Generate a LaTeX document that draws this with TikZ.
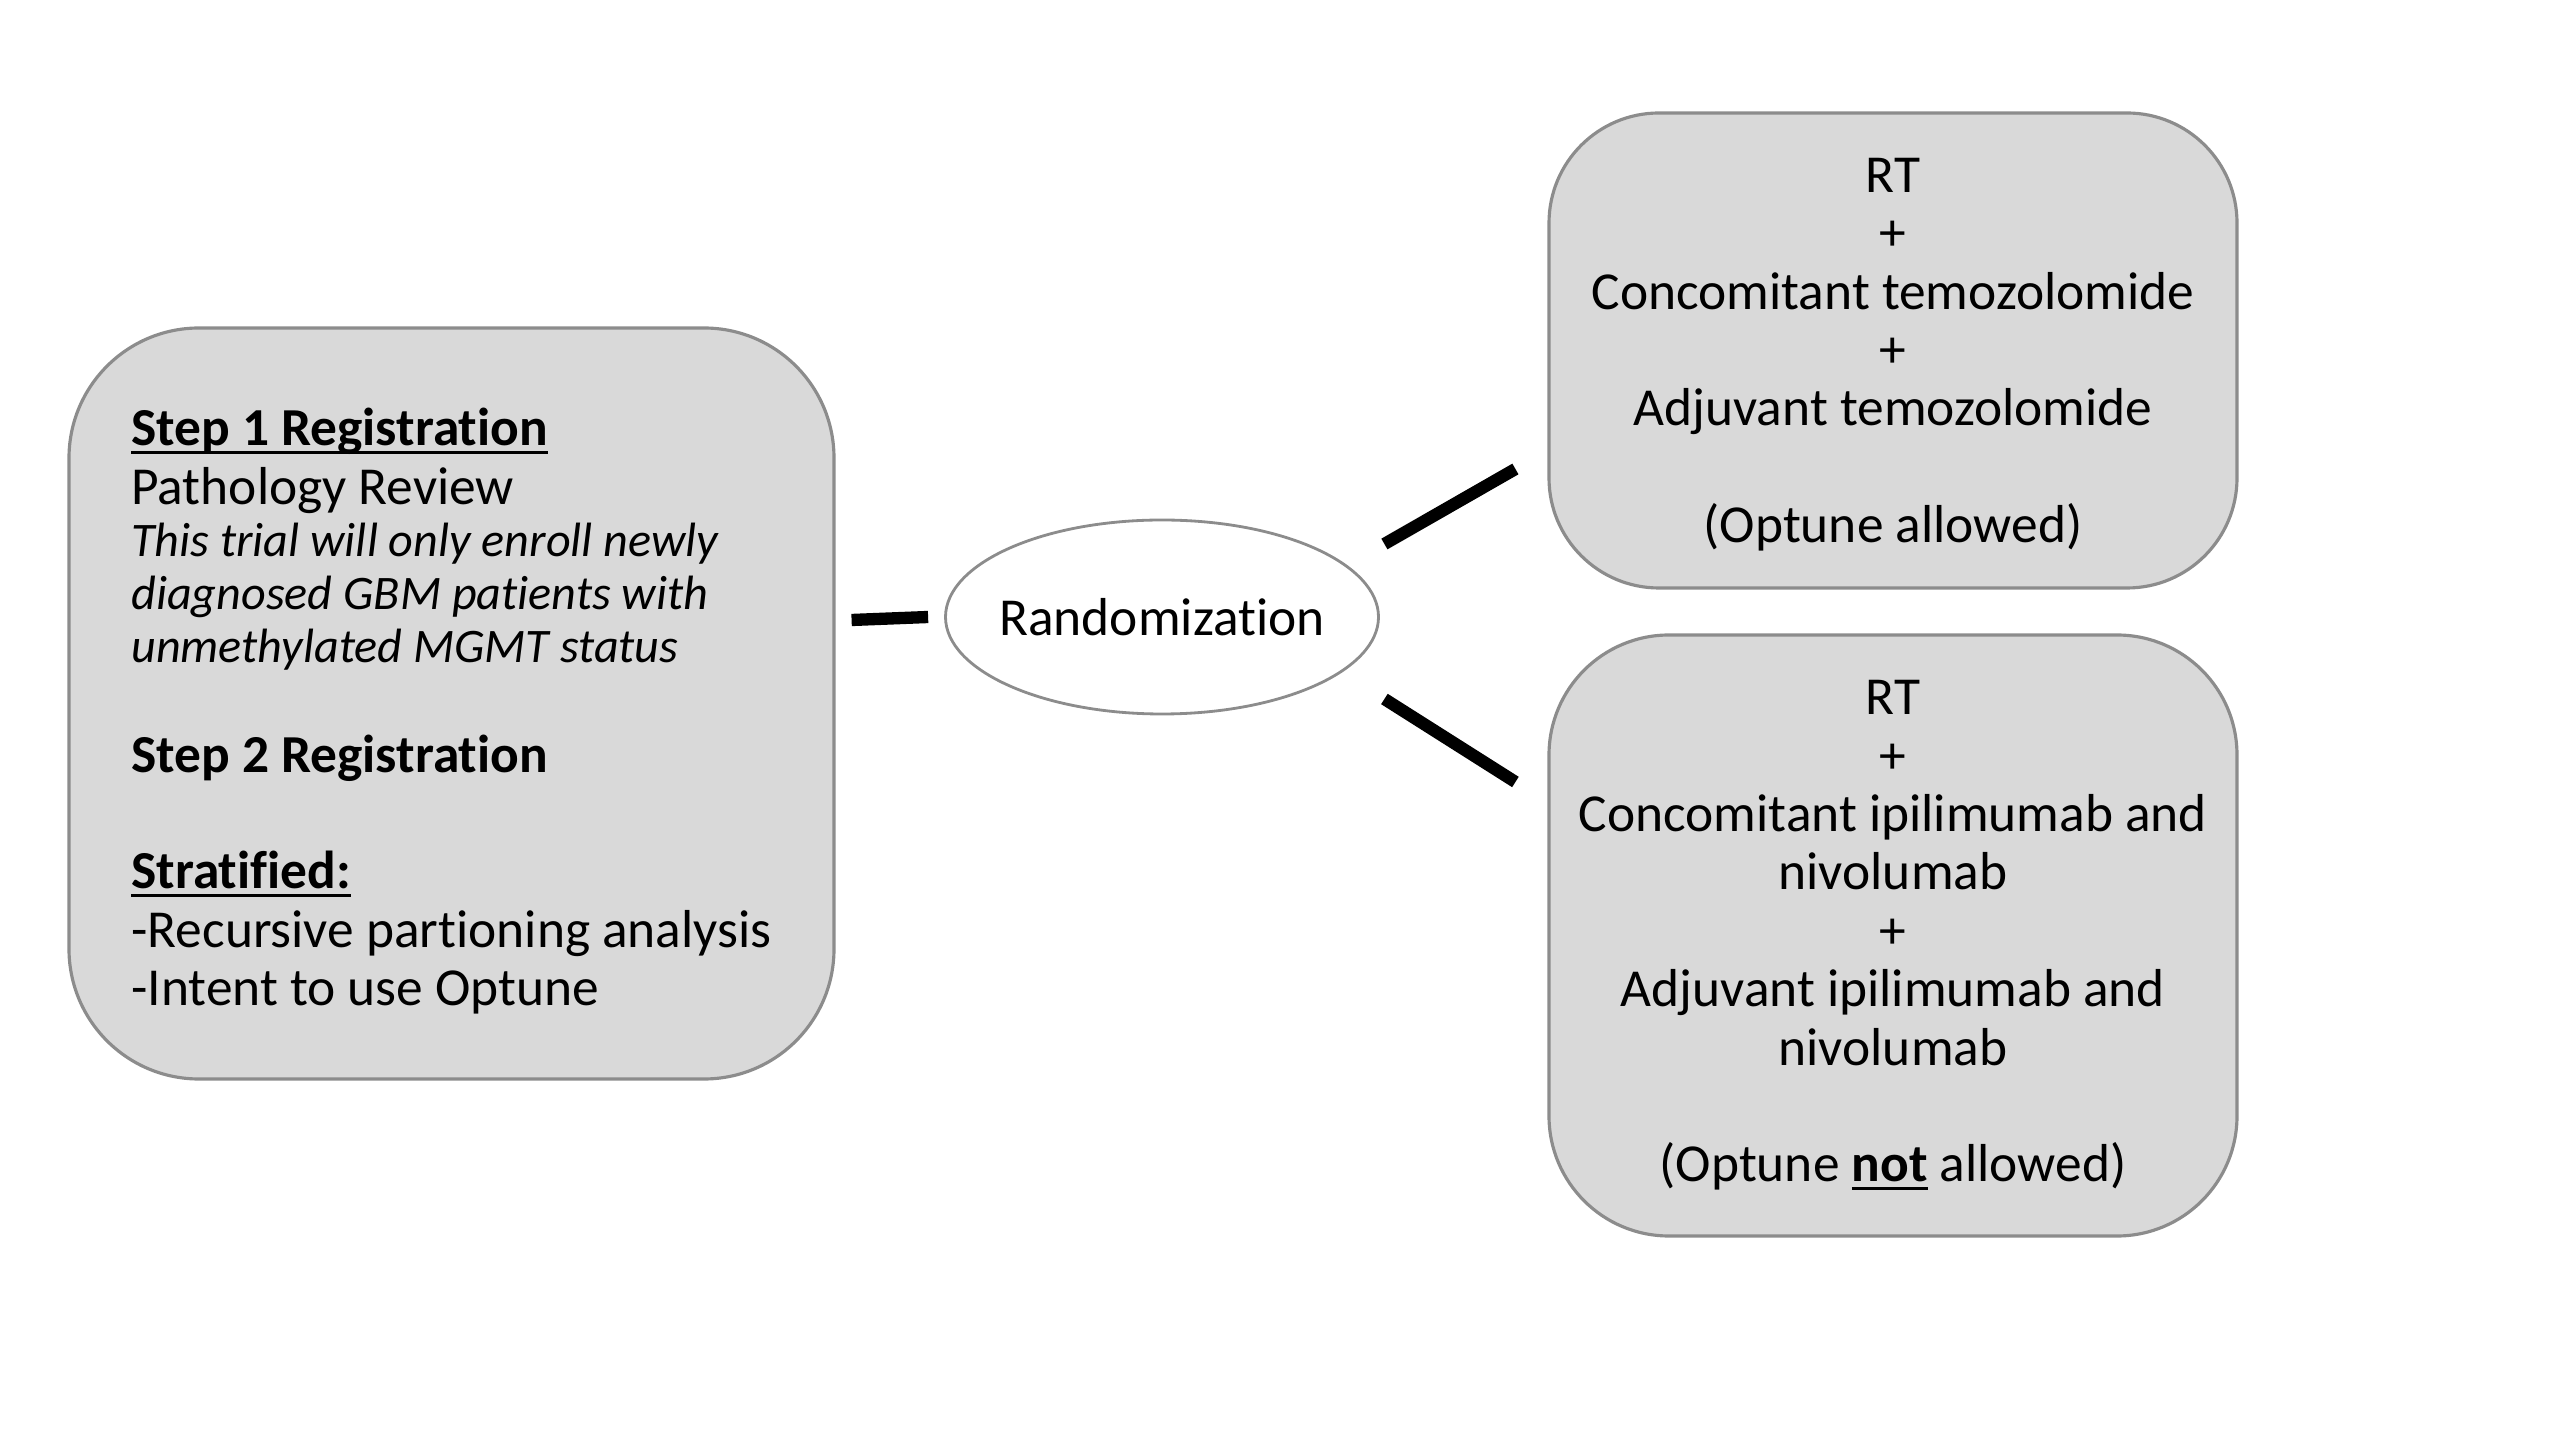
\documentclass[tikz,border=0pt]{standalone}
\usepackage{fontspec}
\setmainfont{Carlito}[Ligatures=NoCommon]
\usetikzlibrary{shapes.geometric}
\definecolor{boxfill}{HTML}{D9D9D9}
\definecolor{boxline}{HTML}{8C8C8C}
\newcommand{\ulbox}[1]{\setbox0\hbox{#1}\rlap{\rule[-2.4pt]{\wd0}{1pt}}\box0\relax}
\newcommand{\smallit}[1]{\textit{\fontsize{13.7}{15}\selectfont #1}}

\begin{document}
\begin{tikzpicture}[
    box/.style={draw=boxline, line width=0.9pt, fill=boxfill, inner sep=0pt},
    link/.style={line width=3.5pt},
    every node/.style={font=\fontsize{15.2}{16.6}\selectfont}
  ]
  \useasboundingbox (0,0) rectangle (25.6,14.4);
  \node[box, rounded corners=1.3cm, minimum width=7.65cm, minimum height=7.51cm, align=left]
    (reg) at (4.515,7.365) {%
      \rule{0pt}{5.3mm}\ulbox{\textbf{Step 1 Registration}}\\
      Pathology Review\\[-1.6pt]
      \smallit{This trial will only enroll newly}\\[-1.6pt]
      \smallit{diagnosed GBM patients with}\\[-1.6pt]
      \smallit{unmethylated MGMT status}\\[-2pt]
      \\
      \textbf{Step 2 Registration}\\
      \\
      \ulbox{\textbf{Stratified:}}\\
      -Recursive partioning analysis\\
      -Intent to use Optune};
  \node[draw=boxline, line width=0.8pt, fill=white, ellipse, inner sep=0pt,
    minimum width=4.33cm, minimum height=1.94cm] (rand) at (11.62,8.23) {\makebox[0pt]{Randomization}};
  \node[box, rounded corners=1.1cm, minimum width=6.88cm, minimum height=4.75cm, align=center]
    (armA) at (18.93,10.895) {%
      \rule{0pt}{4.25mm}RT\\ +\\ Concomitant temozolomide\\ +\\ Adjuvant temozolomide\\ \\ (Optune allowed)};
  \node[box, rounded corners=1.2cm, minimum width=6.88cm, minimum height=6.01cm, align=center]
    (armB) at (18.93,5.045) {%
      RT\\ +\\ Concomitant ipilimumab and\\ nivolumab\\ +\\ Adjuvant ipilimumab and\\ nivolumab\\ \\
      (Optune \ulbox{\textbf{not}} allowed)};
  \draw[link] ([xshift=1.6mm,yshift=-0.3mm]reg.east |- rand.west) -- ([xshift=-1.6mm]rand.west);
  \draw[link] ([xshift=0.45mm,yshift=7.3mm]rand.east) -- ([xshift=-3.2mm,yshift=-11.85mm]armA.west);
  \draw[link] ([xshift=0.45mm,yshift=-8.2mm]rand.east) -- ([xshift=-3.2mm,yshift=15.35mm]armB.west);
\end{tikzpicture}
\end{document}
